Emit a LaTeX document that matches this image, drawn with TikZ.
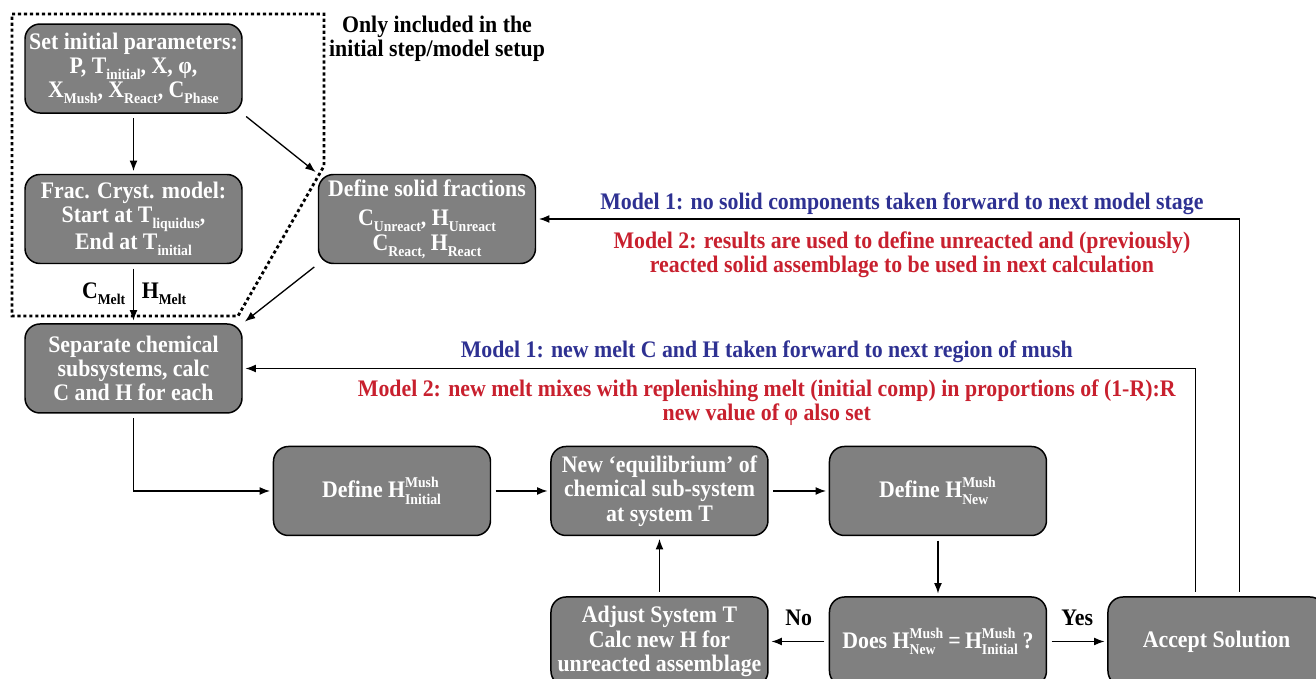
\documentclass[tikz,border=0pt]{standalone}
\usepackage{amsmath}
\usepackage{fontspec}
\setmainfont{Liberation Serif}[FakeStretch=0.92]
\usepackage{tikz}
\usetikzlibrary{positioning}
\usetikzlibrary{calc}
\usetikzlibrary{arrows.meta}
\definecolor{boxgray}{RGB}{128,128,128}
\definecolor{modelblue}{RGB}{46,49,146}
\definecolor{modelred}{RGB}{200,32,46}
\tikzstyle{block} = [draw, fill=boxgray, text=white, rounded corners=0.3cm, line width=0.85pt, minimum height=1.78cm, minimum width=4.34cm, align=center, inner sep=0pt]
\tikzstyle{note} = [align=center, inner sep=1pt]
\tikzstyle{setup} = [line width=1.6pt, dash pattern=on 1.8pt off 1.6pt]
\newcommand{\low}[1]{\raisebox{-0.55ex}{\fontsize{8.5}{8.5}\selectfont #1}}
\newcommand{\idx}[1]{\text{\fontsize{8.5}{8.5}\selectfont #1}}
\newcommand{\Hmush}[1]{\text{H}^{\idx{Mush}}_{\idx{#1}}}

\begin{document}
\begin{tikzpicture}[>={Latex[length=6pt,width=4.5pt]}, font=\fontsize{13.5}{13.8}\selectfont\bfseries,
    arr/.style={->, line width=0.75pt, shorten <=2.5pt, shorten >=1.5pt}]
    \useasboundingbox (0,0) rectangle (26.32,-13.56);
    \node [block] (set) at (2.67,-1.37) {Set initial parameters:\\ P, T\low{initial}, X, φ,\\ X\low{Mush}, X\low{React}, C\low{Phase}};
    \node [block, below=1.2cm of set] (frac) {Frac. Cryst. model:\\ Start at T\low{liquidus},\\ End at T\low{initial}};
    \node [block, below=1.18cm of frac] (sep) {Separate chemical\\ subsystems, calc\\ C and H for each};
    \node [block, right=1.5cm of frac] (solid) {Define solid fractions\\[3pt] C\low{Unreact}, H\low{Unreact}\\ C\low{React,} H\low{React}};
    \node [block, below right=0.64cm and 0.6cm of sep] (hini) {Define $\Hmush{Initial}$};
    \node [block, right=1.18cm of hini] (equ) {New ‘equilibrium’ of\\ chemical sub-system\\ at system T};
    \node [block, right=1.2cm of equ] (hnew) {Define $\Hmush{New}$};
    \node [block, below=1.2cm of hnew] (does) {Does $\Hmush{New}\,\text{=}\,\Hmush{Initial}$\,?};
    \node [block, below=1.2cm of equ] (adj) {Adjust System T\\ Calc new H for\\ unreacted assemblage};
    \node [block, right=1.2cm of does] (acc) {Accept Solution};

    % initial setup only
    \draw [setup] (0.24,-0.28) -- (6.48,-0.28) -- (6.48,-3.32) -- (4.76,-6.32) -- (0.24,-6.32) -- cycle;
    \node [note] (only) at (8.74,-0.77) {Only included in the\\ initial step/model setup};

    \draw [arr] (set) -- (frac);
    \draw [arr] (set.south east) -- (solid.north west);
    \draw [arr] (frac) -- node[left=1pt] {C\low{Melt}} node[right=1pt] {H\low{Melt}} (sep);
    \draw [arr] (solid.south west) -- (sep.north east);
    \draw [arr] (sep) |- (hini);
    \draw [arr] (hini) -- (equ);
    \draw [arr] (equ) -- (hnew);
    \draw [arr] (hnew) -- (does);
    \draw [arr] (does) -- node[above=5pt] {No} (adj);
    \draw [arr] (does) -- node[above=5pt] {Yes} (acc);
    \draw [arr] (adj) -- (equ);

    % feedback to next stage
    \draw [arr] ([xshift=0.46cm]acc.north) |-
        node[pos=0.74, above=1pt, note, text=modelblue] {Model 1: no solid components taken forward to next model stage}
        node[pos=0.74, below=6pt, note, text=modelred] {Model 2: results are used to define unreacted and (previously)\\ reacted solid assemblage to be used in next calculation}
        (solid.east);
    \draw [arr] ([xshift=-0.42cm]acc.north) |-
        node[pos=0.725, above=2pt, note, text=modelblue] {Model 1: new melt C and H taken forward to next region of mush}
        node[pos=0.725, below=5pt, note, text=modelred] {Model 2: new melt mixes with replenishing melt (initial comp) in proportions of (1-R):R\\ new value of φ also set}
        (sep.east);
\end{tikzpicture}
\end{document}
